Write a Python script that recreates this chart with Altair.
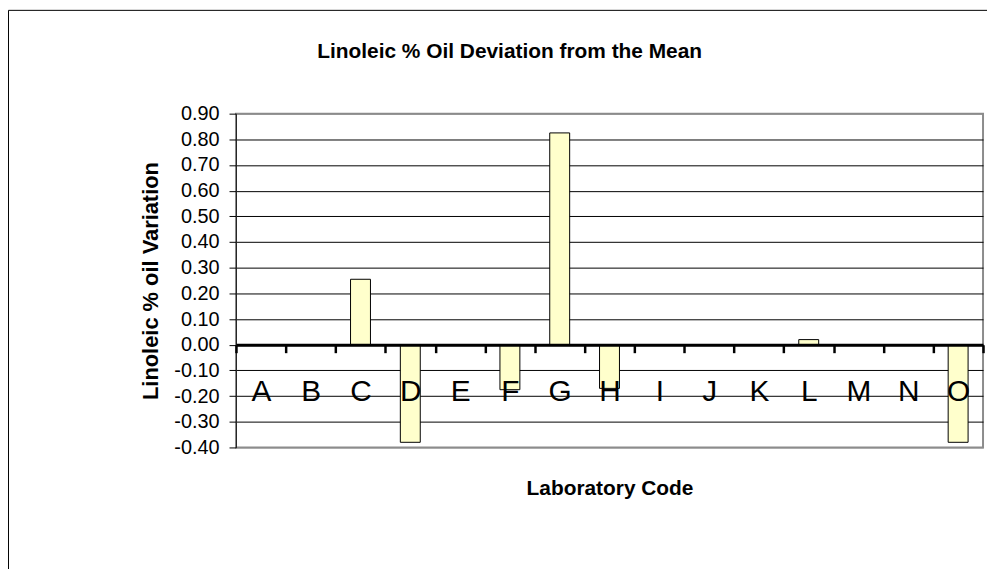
import altair as alt
import pandas as pd

# ---- data ----
LABS = ["A", "B", "C", "D", "E", "F", "G", "H", "I", "J", "K", "L", "M", "N", "O"]
DEVIATION = [0.0, 0.0, 0.255, -0.38, 0.0, -0.175, 0.825, -0.17, 0.0, 0.0, 0.0, 0.02, 0.0, 0.0, -0.38]
Y_TICKS = [-0.4, -0.3, -0.2, -0.1, 0.0, 0.1, 0.2, 0.3, 0.4, 0.5, 0.6, 0.7, 0.8, 0.9]
TITLE = "Linoleic % Oil Deviation from the Mean"
X_TITLE = "Laboratory Code"
Y_TITLE = "Linoleic % oil Variation"

FONT = "Liberation Sans"
W, H = 752, 336
Y_MIN, Y_MAX = Y_TICKS[0], Y_TICKS[-1]
zero_from_bottom = H * (0 - Y_MIN) / (Y_MAX - Y_MIN)

df = pd.DataFrame({"lab": LABS, "dev": DEVIATION})

x_enc = alt.X(
    "lab:N",
    sort=LABS,
    scale=alt.Scale(domain=LABS, paddingInner=0, paddingOuter=0),
    axis=alt.Axis(
        title=X_TITLE,
        offset=-zero_from_bottom,
        domainColor="black",
        domainWidth=3,
        tickColor="black",
        tickWidth=2.5,
        tickSize=8,
        tickBand="extent",
        labelAngle=0,
        labelFont=FONT,
        labelFontSize=30,
        labelColor="black",
        labelBaseline="alphabetic",
        labelPadding=48,
        titleFont=FONT,
        titleFontSize=21,
        titleFontWeight="bold",
        titleColor="black",
        titleBaseline="alphabetic",
        titleX=W / 2,
        titleY=151,
        titleAlign="center",
        zindex=1,
        grid=False,
    ),
)

y_enc = alt.Y(
    "dev:Q",
    scale=alt.Scale(domain=[Y_MIN, Y_MAX], nice=False, zero=False),
    axis=alt.Axis(
        title=Y_TITLE,
        values=Y_TICKS,
        labelExpr="(datum.value < -0.0001 ? '-' : '') + format(abs(datum.value), '.2f')",
        labelFont=FONT,
        labelFontSize=20,
        labelColor="black",
        labelPadding=10,
        tickColor="black",
        tickSize=7,
        domainColor="#222222",
        domainWidth=1,
        grid=True,
        gridColor={"condition": {"test": "datum.value > 0.85 || datum.value < -0.35", "value": "#8c8c8c"}, "value": "black"},
        gridWidth=1,
        titleFont=FONT,
        titleFontSize=22,
        titleFontWeight="bold",
        titleColor="black",
        titleAngle=270,
        titleBaseline="alphabetic",
        titleAlign="center",
        titleX=-79.5,
        titleY=H / 2,
    ),
)

bars = alt.Chart(df).mark_bar(
    width=alt.RelativeBandSize(0.4),
    fill="#FFFFCC",
    stroke="black",
    strokeWidth=1,
).encode(x=x_enc, y=y_enc)

title_df = pd.DataFrame({"t": [TITLE]})
title = alt.Chart(title_df).mark_text(
    font=FONT, fontSize=21, fontWeight="bold", color="black",
    align="center", baseline="alphabetic",
).encode(x=alt.value(275.5), y=alt.value(-55.8), text="t:N")

border = alt.Chart(title_df).mark_rect(
    fill=None, stroke="black", strokeWidth=1,
).encode(
    x=alt.value(-229), x2=alt.value(W + 200),
    y=alt.value(-104), y2=alt.value(H + 300),
)

chart = alt.layer(border, bars, title).properties(
    width=W,
    height=H,
    autosize=alt.AutoSizeParams(type="none"),
    padding={"left": 229.5, "top": 104.5, "right": 4, "bottom": 120},
    background="white",
).configure_view(
    stroke="#8c8c8c",
    strokeWidth=2,
)

chart.save("out.html", embed_options={"renderer": "svg", "actions": False})
